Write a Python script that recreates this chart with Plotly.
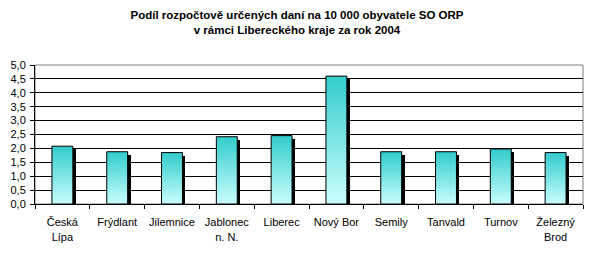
import plotly.graph_objects as go

categories = ["Česká<br>Lípa", "Frýdlant", "Jilemnice", "Jablonec<br>n. N.", "Liberec",
              "Nový Bor", "Semily", "Tanvald", "Turnov", "Železný<br>Brod"]
values = [2.08, 1.88, 1.85, 2.42, 2.46, 4.60, 1.88, 1.88, 1.98, 1.85]
y_ticks = [0.0, 0.5, 1.0, 1.5, 2.0, 2.5, 3.0, 3.5, 4.0, 4.5, 5.0]
title = "Podíl rozpočtově určených daní na 10 000 obyvatele SO ORP<br>v rámci Libereckého kraje za rok 2004"

W, H = 594, 254
L, R, T, B = 33, 11, 65, 49
plot_w = W - L - R
plot_h = H - T - B
n = len(categories)
px_x = n / plot_w          # data units per px along x
px_y = 5.0 / plot_h        # data units per px along y
bw = 21 * px_x             # bar width in data units
xs = list(range(n))

fig = go.Figure()

# shadows
fig.add_trace(go.Bar(
    x=[i + 3 * px_x for i in xs], y=[v - 3 * px_y for v in values], width=bw,
    marker=dict(color="black", line=dict(width=0)), hoverinfo="skip", showlegend=False))

# gradient bars
for i, v in zip(xs, values):
    x0, x1 = i - bw / 2, i + bw / 2
    fig.add_trace(go.Scatter(
        x=[x0, x1, x1, x0, x0], y=[0, 0, v, v, 0], mode="lines", fill="toself",
        line=dict(color="black", width=1),
        fillgradient=dict(type="vertical", start=0, stop=v,
                          colorscale=[[0, "#CCFFFF"], [1, "#33CCCC"]]),
        hoverinfo="skip", showlegend=False))

fig.update_layout(
    width=W, height=H, margin=dict(l=L, r=R, t=T, b=B),
    paper_bgcolor="white", plot_bgcolor="white", separators=", ",
    font=dict(family="Liberation Sans, Arial, sans-serif", size=11, color="black"),
    title=dict(text=title, x=0.5, xanchor="center", y=1 - 19 / H, yanchor="middle",
               font=dict(family="Liberation Sans, Arial", size=11.5,
                         color="black", weight="bold")),
    barmode="overlay", bargap=0,
    shapes=[dict(type="rect", xref="paper", yref="paper", x0=0, x1=1, y0=0, y1=1,
                 line=dict(color="#808080", width=1), layer="below")],
)
fig.update_xaxes(range=[-0.5, n - 0.5], tickvals=xs, ticktext=categories, ticks="",
                 showgrid=False, showline=True, linecolor="black", linewidth=1,
                 zeroline=False, fixedrange=True, ticklabelstandoff=8,
                 minor=dict(tickvals=[i - 0.5 for i in range(n + 1)], ticks="outside",
                            ticklen=4, tickcolor="black", showgrid=False))
fig.update_yaxes(range=[0, 5], tickvals=y_ticks, tickformat=".1f", ticks="outside",
                 ticklen=4, tickcolor="black", showgrid=True, gridcolor="black",
                 gridwidth=1, showline=True, linecolor="black", linewidth=1,
                 zeroline=False, fixedrange=True, ticklabelstandoff=2)

fig.write_html("out.html")
